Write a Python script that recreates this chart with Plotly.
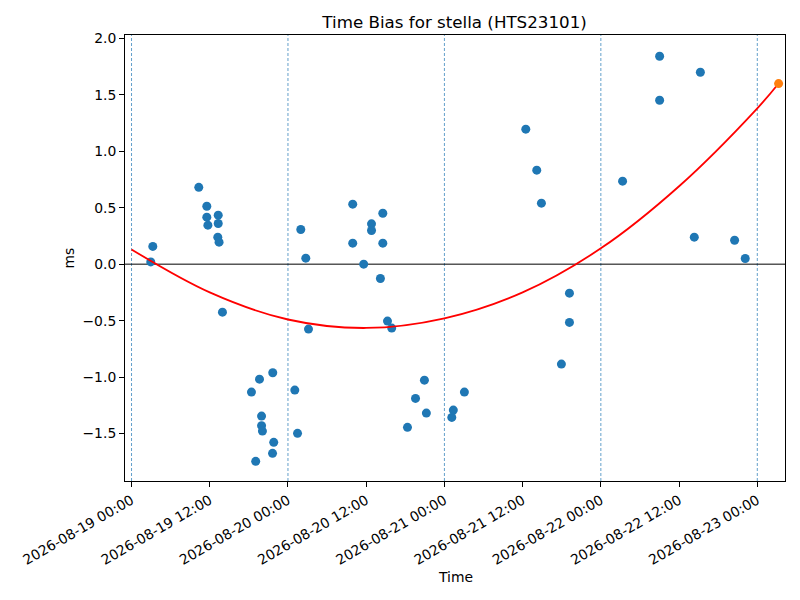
import plotly.graph_objects as go

# Measurement times and time bias values (ms)
times = [
    "2026-08-19 02:57", "2026-08-19 03:16", "2026-08-19 10:19", "2026-08-19 11:33",
    "2026-08-19 11:33", "2026-08-19 11:43", "2026-08-19 13:18", "2026-08-19 13:18",
    "2026-08-19 13:14", "2026-08-19 13:26", "2026-08-19 13:57", "2026-08-19 18:24",
    "2026-08-19 19:03", "2026-08-19 19:38", "2026-08-19 19:57", "2026-08-19 19:57",
    "2026-08-19 20:05", "2026-08-19 21:38", "2026-08-19 21:40", "2026-08-19 21:49",
    "2026-08-20 01:03", "2026-08-20 01:28", "2026-08-20 01:58", "2026-08-20 02:44",
    "2026-08-20 03:09", "2026-08-20 09:56", "2026-08-20 09:56", "2026-08-20 11:37",
    "2026-08-20 12:49", "2026-08-20 12:49", "2026-08-20 14:11", "2026-08-20 14:33",
    "2026-08-20 14:33", "2026-08-20 15:16", "2026-08-20 15:55", "2026-08-20 18:20",
    "2026-08-20 19:34", "2026-08-20 20:56", "2026-08-20 21:14", "2026-08-21 01:08",
    "2026-08-21 01:22", "2026-08-21 03:04", "2026-08-21 12:29", "2026-08-21 14:10",
    "2026-08-21 14:53", "2026-08-21 17:57", "2026-08-21 19:11", "2026-08-21 19:11",
    "2026-08-22 03:20", "2026-08-22 09:01", "2026-08-22 09:01", "2026-08-22 14:20",
    "2026-08-22 15:16", "2026-08-22 20:31", "2026-08-22 22:09",
]
bias_ms = [
    0.02, 0.157, 0.68, 0.513,
    0.416, 0.345, 0.434, 0.36,
    0.239, 0.195, -0.425, -1.133,
    -1.746, -1.018, -1.345, -1.43,
    -1.478, -1.675, -0.962, -1.578,
    -1.115, -1.498, 0.307, 0.053,
    -0.575, 0.531, 0.186, 0.0,
    0.357, 0.298, -0.127, 0.451,
    0.186, -0.504, -0.566, -1.445,
    -1.189, -1.027, -1.319, -1.357,
    -1.292, -1.133, 1.195, 0.832,
    0.54, -0.885, -0.257, -0.516,
    0.735, 1.841, 1.451, 0.239,
    1.699, 0.212, 0.05,
]

# Fitted trend curve
fit_times = [
    "2026-08-19 00:00", "2026-08-19 12:00", "2026-08-20 00:00", "2026-08-20 12:00",
    "2026-08-21 00:00", "2026-08-21 12:00", "2026-08-22 00:00", "2026-08-22 12:00",
    "2026-08-23 00:00", "2026-08-23 03:16",
]
fit_ms = [0.13, -0.25, -0.49, -0.565, -0.48, -0.25, 0.14, 0.69, 1.38, 1.60]

# Predicted point
pred_time = ["2026-08-23 03:16"]
pred_ms = [1.599]

# Day boundaries
day_lines = ["2026-08-19", "2026-08-20", "2026-08-21", "2026-08-22", "2026-08-23"]

FONT = "DejaVu Sans"

fig = go.Figure()
fig.add_trace(go.Scatter(
    x=times, y=bias_ms, mode="markers",
    marker=dict(color="#1f77b4", size=9, line=dict(width=0)),
    showlegend=False,
))
fig.add_trace(go.Scatter(
    x=fit_times, y=fit_ms, mode="lines",
    line=dict(color="red", width=1.8, shape="spline"),
    showlegend=False,
))
fig.add_trace(go.Scatter(
    x=pred_time, y=pred_ms, mode="markers",
    marker=dict(color="#ff7f0e", size=9, line=dict(width=0)),
    showlegend=False,
))

shapes = []
for d in day_lines:
    shapes.append(dict(
        type="line", xref="x", yref="paper", x0=d, x1=d, y0=0, y1=1,
        line=dict(color="#1f77b4", width=0.7, dash="3px,2px"), layer="below",
    ))
shapes.append(dict(
    type="line", xref="paper", yref="y", x0=0, x1=1, y0=0, y1=0,
    line=dict(color="black", width=1), layer="below",
))

fig.update_layout(
    width=800, height=600,
    margin=dict(l=124.5, r=15.3, t=35, b=119.3, autoexpand=False),
    paper_bgcolor="white", plot_bgcolor="white",
    font=dict(family=FONT, size=13.9, color="black"),
    title=dict(
        text="Time Bias for stella (HTS23101)",
        x=(124.5 + 784.7) / 2 / 800, xanchor="center",
        y=1 - 22 / 600, yanchor="middle",
        font=dict(family=FONT, size=16.7, color="black"),
    ),
    shapes=shapes,
    annotations=[
        dict(text="Time", xref="paper", yref="paper", x=0.5, y=-96 / 445.7,
             xanchor="center", yanchor="middle", showarrow=False,
             font=dict(family=FONT, size=13.9)),
        dict(text="ms", xref="paper", yref="paper", x=-56.5 / 660.2, y=0.5,
             xanchor="center", yanchor="middle", showarrow=False, textangle=-90,
             font=dict(family=FONT, size=13.9)),
    ],
)
fig.update_xaxes(
    type="date",
    range=["2026-08-18 23:00", "2026-08-23 04:15"],
    tick0="2026-08-19 00:00", dtick=12 * 3600 * 1000,
    tickformat="%Y-%m-%d %H:%M", tickangle=-30,
    ticks="outside", ticklen=5, tickcolor="black",
    showline=True, linecolor="black", linewidth=1, mirror=True,
    showgrid=False, zeroline=False, automargin=False,
)
fig.update_yaxes(
    range=[-1.92, 2.029],
    tick0=0, dtick=0.5, tickformat=".1f",
    ticks="outside", ticklen=5, tickcolor="black",
    showline=True, linecolor="black", linewidth=1, mirror=True,
    showgrid=False, zeroline=False, automargin=False,
)

fig.write_html(
    "out.html",
    config={"displayModeBar": False},
    post_script="document.body.style.margin='0';document.body.style.overflow='hidden';",
)
